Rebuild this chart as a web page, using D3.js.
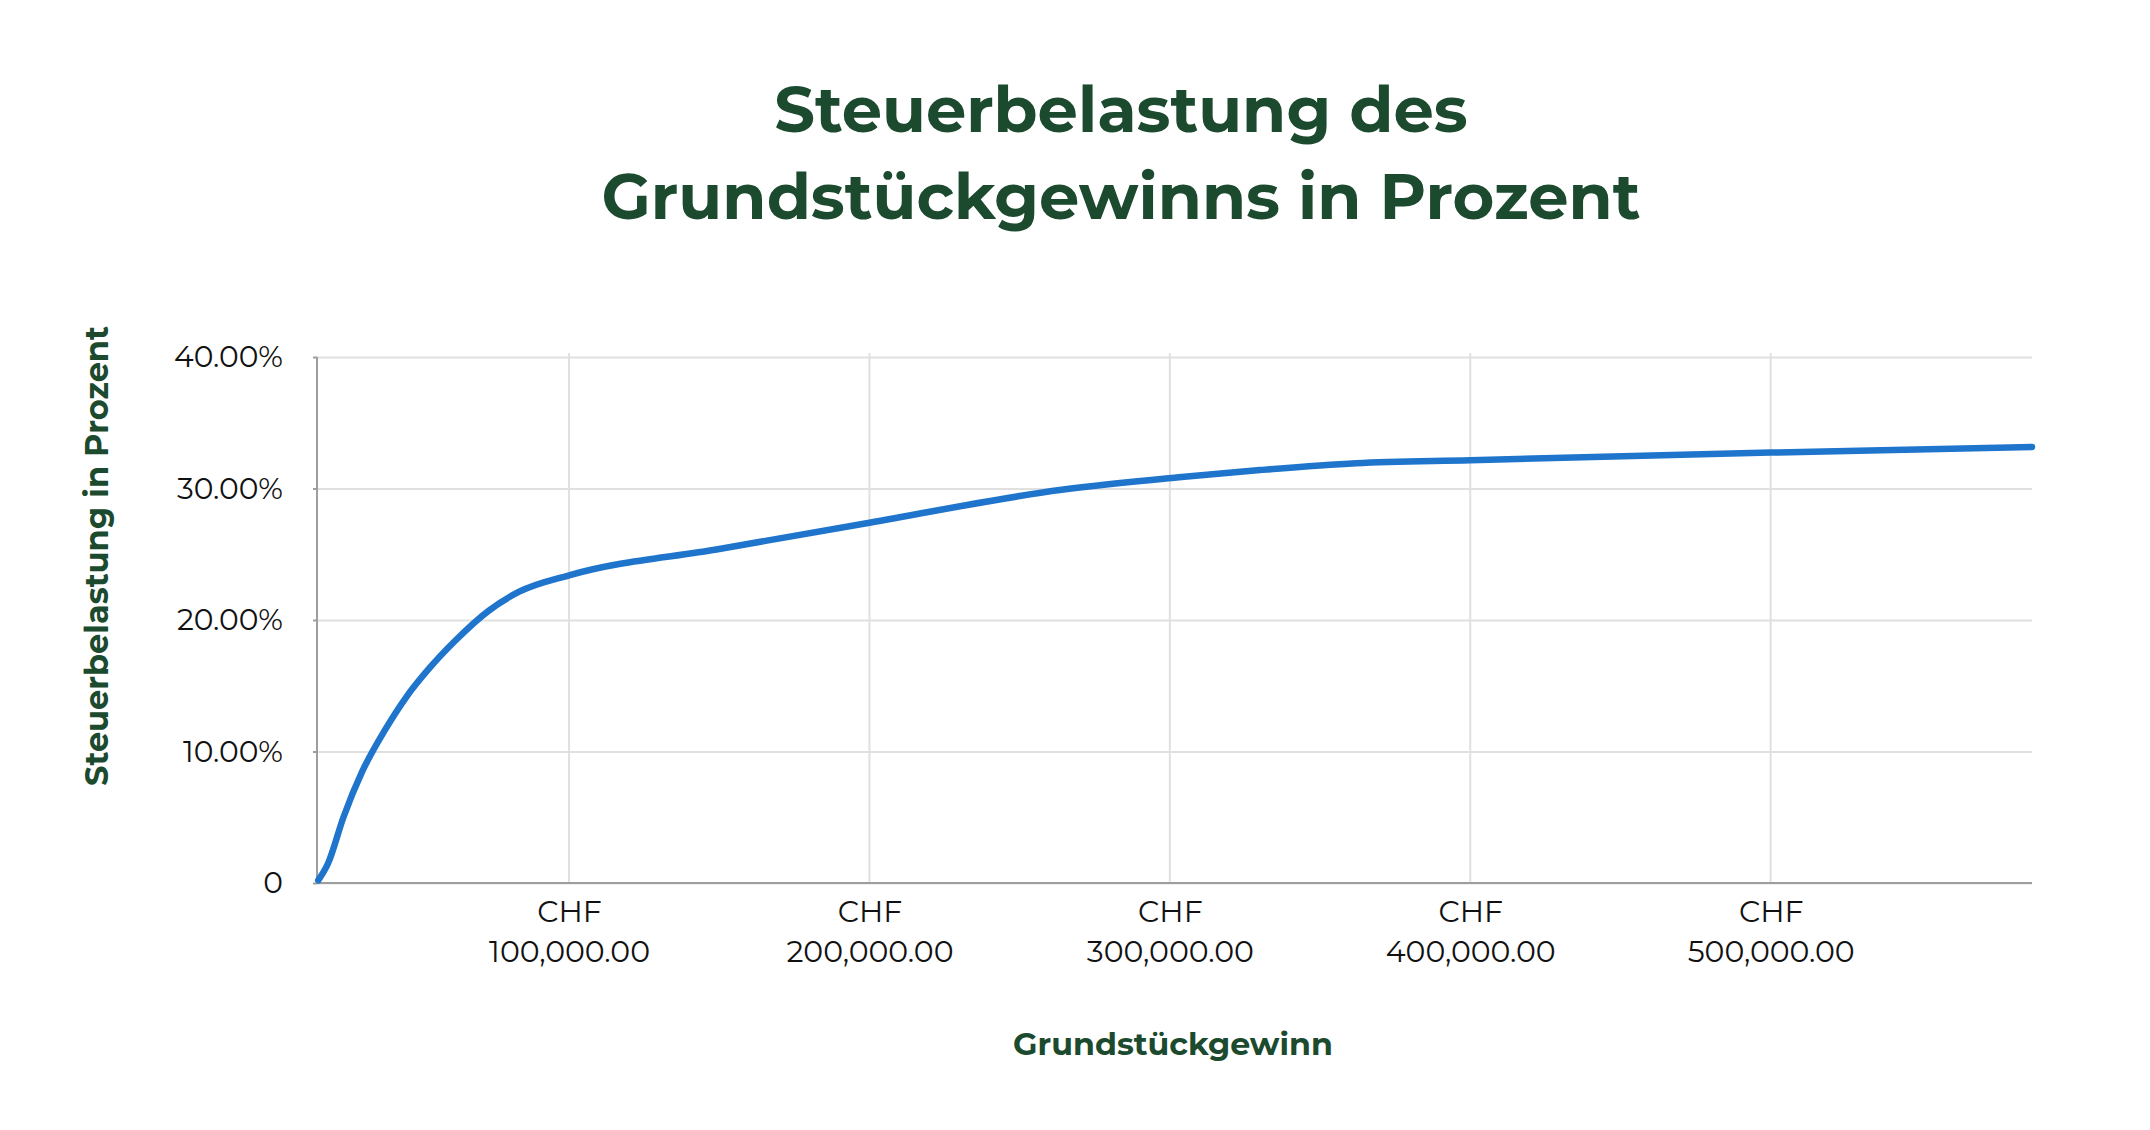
<!DOCTYPE html>
<html>
<head>
<meta charset="utf-8">
<script src="https://cdn.jsdelivr.net/npm/d3@7"></script>
<style>
  body { margin: 0; background: #fff; }
  svg { display: block; }
</style>
</head>
<body>
<script>
// values (CHF gain -> tax share)
const gains = [16500, 19800, 24900, 31200, 38900, 46000, 53000, 62000, 73200, 83400,
  100000, 150000, 200000, 264000, 303000, 330000, 362000, 400000, 500000, 587000]
const rates = [0.002, 0.015, 0.050, 0.085, 0.117, 0.142, 0.162, 0.184, 0.207, 0.2215,
  0.234, 0.254, 0.274, 0.299, 0.3085, 0.314, 0.3192, 0.3215, 0.3273, 0.3316]
const xTicks = [100000, 200000, 300000, 400000, 500000]
const yTicks = [0, 0.1, 0.2, 0.3, 0.4]
const titleLines = ['Steuerbelastung des', 'Grundstückgewinns in Prozent']
const xTitle = 'Grundstückgewinn'
const yTitle = 'Steuerbelastung in Prozent'

const W = 2150, H = 1130
const mLeft = 317, mRight = 2032, mTop = 357, mBottom = 883
const green = '#1b4a2e'
const font = "Montserrat, 'DejaVu Sans', sans-serif"

const svg = d3.select('body').append('svg')
  .attr('width', W).attr('height', H)
  .attr('font-family', font)

const x = d3.scaleLinear().domain([16100, 587000]).range([mLeft, mRight])
const y = d3.scaleLinear().domain([0, 0.4]).range([mBottom, mTop])

// scale a text's font size so its width matches the picture
function fit(node, target) {
  const sel = d3.select(node.tagName === 'tspan' ? node.parentNode : node)
  const w = node.getComputedTextLength()
  const fs = parseFloat(sel.attr('font-size'))
  const size = fs * target / w
  sel.attr('font-size', size)
  return size
}

// horizontal grid + y labels
const gy = svg.append('g')
  .attr('transform', `translate(${mLeft},0)`)
  .call(d3.axisLeft(y).tickValues(yTicks).tickSize(4).tickPadding(30)
    .tickFormat(d => d === 0 ? '0' : d3.format('.2%')(d)))
gy.select('.domain').remove()
gy.selectAll('.tick line').attr('stroke', '#9e9e9e').attr('stroke-width', 2)
gy.selectAll('.tick').append('line')
  .attr('x2', mRight - mLeft)
  .attr('stroke', '#e0e0e0').attr('stroke-width', 2)
gy.selectAll('.tick text')
  .attr('font-family', font).attr('font-size', 26).attr('fill', '#111')

// vertical grid
svg.append('g').selectAll('line').data(xTicks).join('line')
  .attr('x1', d => x(d)).attr('x2', d => x(d))
  .attr('y1', mTop - 4).attr('y2', mBottom)
  .attr('stroke', '#e0e0e0').attr('stroke-width', 2)

// axis lines
svg.append('line').attr('x1', mLeft).attr('x2', mLeft).attr('y1', mTop).attr('y2', mBottom)
  .attr('stroke', '#9e9e9e').attr('stroke-width', 2)

const gx = svg.append('g')
  .attr('transform', `translate(0,${mBottom})`)
  .call(d3.axisBottom(x).tickValues(xTicks).tickSize(0).tickFormat(''))
gx.select('.domain').attr('stroke', '#9e9e9e').attr('stroke-width', 2)
  .attr('d', `M${mLeft},0H${mRight}`)
gx.selectAll('.tick text').remove()
const xt = gx.selectAll('.tick').append('text')
  .attr('text-anchor', 'middle').attr('fill', '#111')
  .attr('font-family', font).attr('font-size', 26)
xt.append('tspan').attr('x', 0).attr('y', 39).text('CHF')
xt.append('tspan').attr('x', 0).attr('y', 79).text(d => d3.format(',.2f')(d))

// size tick labels to the picture
const numSize = fit(xt.filter(d => d === 300000).select('tspan:nth-child(2)').node(), 167)
xt.attr('font-size', numSize)
const ySize = fit(gy.selectAll('.tick text').filter(d => d === 0.4).node(), 109)
gy.selectAll('.tick text').attr('font-size', ySize)

// the curve
const pts = gains.map((g, i) => [g, rates[i]])
svg.append('path')
  .datum(pts)
  .attr('fill', 'none')
  .attr('stroke', '#1f74cc')
  .attr('stroke-width', 6.5)
  .attr('stroke-linecap', 'round')
  .attr('stroke-linejoin', 'round')
  .attr('d', d3.line().x(d => x(d[0])).y(d => y(d[1])).curve(d3.curveMonotoneX))

// titles
const t = svg.append('text')
  .attr('text-anchor', 'middle').attr('fill', green)
  .attr('font-weight', 'bold').attr('font-size', 60)
t.selectAll('tspan').data(titleLines).join('tspan')
  .attr('x', 1121).attr('y', (d, i) => 132 + i * 86.5)
  .text(d => d)
fit(t.selectAll('tspan').nodes()[1], 1039)

const xl = svg.append('text')
  .attr('x', 1173).attr('y', 1055)
  .attr('text-anchor', 'middle').attr('fill', green)
  .attr('font-weight', 'bold').attr('font-size', 30)
  .text(xTitle)
fit(xl.node(), 320)

const yl = svg.append('text')
  .attr('transform', 'translate(108,556) rotate(-90)')
  .attr('text-anchor', 'middle').attr('fill', green)
  .attr('font-weight', 'bold').attr('font-size', 30)
  .text(yTitle)
fit(yl.node(), 460)
</script>
</body>
</html>
